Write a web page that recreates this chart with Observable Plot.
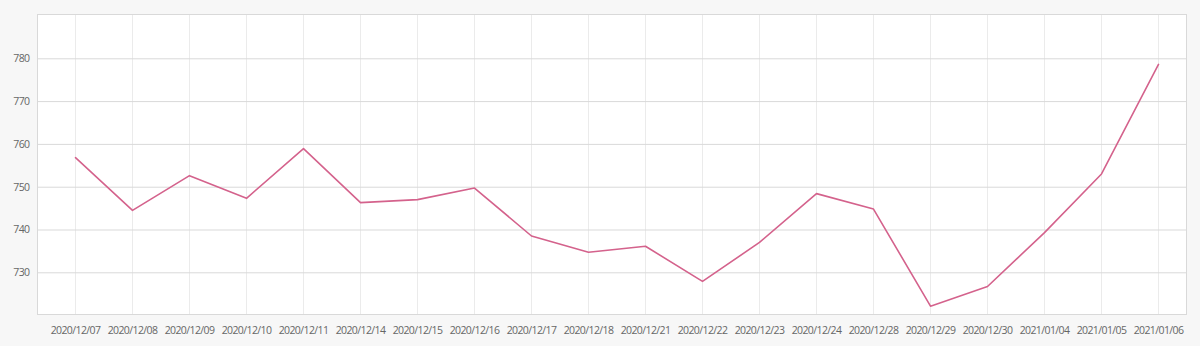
<!DOCTYPE html>
<html>
<head>
<meta charset="utf-8">
<script src="https://cdn.jsdelivr.net/npm/d3@7"></script>
<script src="https://cdn.jsdelivr.net/npm/@observablehq/plot@0.6"></script>
<style>
  html, body { margin: 0; padding: 0; background: #f7f7f7; }
  #chart svg { display: block; }
</style>
</head>
<body>
<div id="chart"></div>
<script>
const dates = ["2020/12/07","2020/12/08","2020/12/09","2020/12/10","2020/12/11","2020/12/14","2020/12/15","2020/12/16","2020/12/17","2020/12/18","2020/12/21","2020/12/22","2020/12/23","2020/12/24","2020/12/28","2020/12/29","2020/12/30","2021/01/04","2021/01/05","2021/01/06"];
const values = [756.9, 744.6, 752.7, 747.4, 759.0, 746.4, 747.1, 749.8, 738.6, 734.8, 736.2, 728.0, 737.1, 748.5, 744.9, 722.2, 726.8, 739.4, 753.1, 778.7];
const yTicks = [730, 740, 750, 760, 770, 780];

const data = dates.map((d, i) => ({date: d, value: values[i]}));

const chart = Plot.plot({
  width: 1200,
  height: 346,
  marginLeft: 37,
  marginRight: 14,
  marginTop: 14,
  marginBottom: 32,
  style: {background: "#f7f7f7", fontFamily: "'Open Sans', sans-serif", fontSize: "10.5px", color: "#666", letterSpacing: "-0.6px"},
  x: {type: "point", domain: dates, range: [75, 1158], padding: 0},
  y: {domain: [720.26, 790.35]},
  marks: [
    Plot.frame({fill: "white", stroke: null}),
    Plot.ruleX(dates, {stroke: "#ebebeb", strokeWidth: 1}),
    Plot.ruleY(yTicks, {stroke: "#d9d9d9", strokeWidth: 1}),
    Plot.line(data, {x: "date", y: "value", stroke: "#d4628c", strokeWidth: 1.6}),
    Plot.frame({stroke: "#d9d9d9"}),
    Plot.axisY(yTicks, {tickSize: 0, tickPadding: 8, label: null, fill: "#666"}),
    Plot.axisX(dates, {tickSize: 0, tickPadding: 12, label: null, fill: "#666"})
  ]
});
document.getElementById("chart").appendChild(chart);
</script>
</body>
</html>
